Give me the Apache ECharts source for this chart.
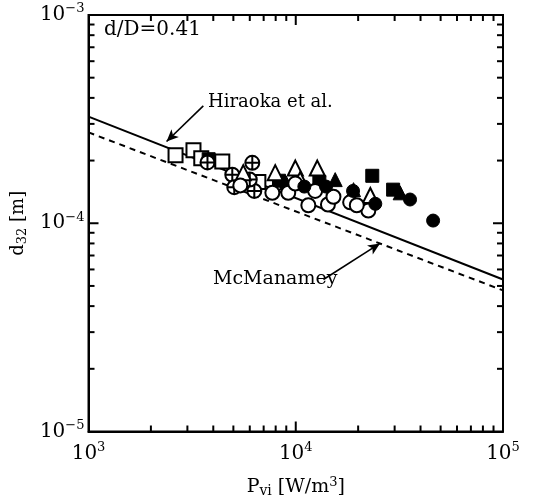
<!DOCTYPE html>
<html><head><meta charset="utf-8">
<script src="https://cdn.jsdelivr.net/npm/echarts@6/dist/echarts.min.js"></script>
<style>html,body{margin:0;padding:0;background:#fff}#c{width:541px;height:504px}</style>
</head><body><div id="c"></div>
<script>
// ---- data ----
const xRange = [1e3, 1e5];
const yRange = [1e-5, 1e-3];
const xTickValues = [1e3, 1e4, 1e5];
const yTickValues = [1e-5, 1e-4, 1e-3];
const xMinorTicks = [2e3,3e3,4e3,5e3,6e3,7e3,8e3,9e3,1e4,2e4,3e4,4e4,5e4,6e4,7e4,8e4,9e4];
const yMinorTicks = [2e-5,3e-5,4e-5,5e-5,6e-5,7e-5,8e-5,9e-5,1e-4,2e-4,3e-4,4e-4,5e-4,6e-4,7e-4,8e-4,9e-4];

const hiraokaLine = [[1e3, 3.25e-4], [1e5, 5.37e-5]];
const mcmanameyLine = [[1e3, 2.73e-4], [1e5, 4.76e-5]];
const hiraokaArrow = [[3580, 3.66e-4], [2380, 2.47e-4]];
const mcmanameyArrow = [[1.36e4, 5.37e-5], [2.55e4, 8.0e-5]];

const openSquares   = [[2630,2.12e-4],[3210,2.24e-4],[3500,2.05e-4],[4420,1.98e-4],[5300,1.63e-4],[6600,1.58e-4]];
const filledSquares = [[3800,2.03e-4],[8300,1.60e-4],[1.3e4,1.58e-4],[2.34e4,1.69e-4],[2.95e4,1.45e-4]];
const crossCircles  = [[3750,1.96e-4],[4940,1.71e-4],[5050,1.49e-4],[6170,1.95e-4],[6310,1.43e-4],[6000,1.62e-4]];
const openTriangles = [[5580,1.75e-4],[7960,1.75e-4],[9950,1.84e-4],[1.27e4,1.84e-4],[2.29e4,1.36e-4],[1.05e4,1.62e-4]];
const filledTriangles = [[9000,1.56e-4],[1.55e4,1.62e-4],[3.19e4,1.40e-4],[1.9e4,1.45e-4]];
const openCircles   = [[5400,1.52e-4],[7710,1.40e-4],[9200,1.40e-4],[9950,1.55e-4],[1.15e4,1.22e-4],[1.24e4,1.43e-4],
                       [1.43e4,1.23e-4],[1.52e4,1.34e-4],[1.83e4,1.26e-4],[2.24e4,1.15e-4],[1.97e4,1.22e-4]];
const filledCircles = [[1.1e4,1.50e-4],[1.4e4,1.50e-4],[1.89e4,1.43e-4],[2.42e4,1.24e-4],[3.56e4,1.30e-4],[4.6e4,1.03e-4]];

// ---- chart ----
const SERIF = '"DejaVu Serif", "Liberation Serif", serif';
const chart = echarts.init(document.getElementById('c'), null, {renderer: 'canvas'});

function powLabel(v) {
  const e = Math.round(Math.log10(v));
  const s = e < 0 ? '\u2212' + (-e) : String(e);
  return '{b|10}{s|' + s + '}';
}
const labelRich = {
  b: {fontFamily: SERIF, fontSize: 20, color: '#000', lineHeight: 24},
  s: {fontFamily: SERIF, fontSize: 13, color: '#000', padding: [0, 0, 12, 0], lineHeight: 24}
};

function tickRenderer(dir) {
  return function (params, api) {
    const v = api.value(dir === 'x' ? 0 : 1);
    const lg = Math.log10(v);
    const major = Math.abs(lg - Math.round(lg)) < 1e-6;
    const len = major ? 10 : 6;
    let a, b;
    if (dir === 'x') {
      a = api.coord([v, yRange[0]]); b = api.coord([v, yRange[1]]);
      return {type: 'group', children: [
        {type: 'line', shape: {x1: a[0], y1: a[1], x2: a[0], y2: a[1] - len}, style: {stroke: '#000', lineWidth: 2}},
        {type: 'line', shape: {x1: b[0], y1: b[1], x2: b[0], y2: b[1] + len}, style: {stroke: '#000', lineWidth: 2}}
      ]};
    } else {
      a = api.coord([xRange[0], v]); b = api.coord([xRange[1], v]);
      return {type: 'group', children: [
        {type: 'line', shape: {x1: a[0], y1: a[1], x2: a[0] + len, y2: a[1]}, style: {stroke: '#000', lineWidth: 2}},
        {type: 'line', shape: {x1: b[0], y1: b[1], x2: b[0] - len, y2: b[1]}, style: {stroke: '#000', lineWidth: 2}}
      ]};
    }
  };
}

const crossPath = 'path://M0,-10A10,10,0,1,1,0,10A10,10,0,1,1,0,-10Z M-10,0L10,0 M0,-10L0,10';
const openStyle = {color: '#fff', borderColor: '#000', borderWidth: 2, opacity: 1};
const fillStyle = {color: '#000', borderColor: '#000', borderWidth: 1, opacity: 1};

function scatter(name, data, symbol, size, style) {
  return {name, type: 'scatter', data, symbol, symbolSize: size, itemStyle: style,
          z: 3, animation: false, emphasis: {disabled: true}};
}

const option = {
  backgroundColor: '#fff',
  animation: false,
  grid: {left: 88, right: 38, top: 15, bottom: 67, show: true, borderColor: '#000', borderWidth: 2, backgroundColor: 'transparent'},
  xAxis: {
    type: 'log', logBase: 10, min: xRange[0], max: xRange[1],
    axisLine: {show: true, lineStyle: {color: '#000', width: 2}},
    axisTick: {show: false}, splitLine: {show: false}, minorTick: {show: false},
    axisLabel: {formatter: powLabel, rich: labelRich, margin: 10, showMinLabel: true, showMaxLabel: true},
    name: '{b|P}{sub|vi}{b| [W/m}{sup|3}{b|]}',
    nameLocation: 'middle', nameGap: 44,
    nameTextStyle: {rich: {
      b: {fontFamily: SERIF, fontSize: 19, color: '#000', lineHeight: 24},
      sub: {fontFamily: SERIF, fontSize: 14, color: '#000', padding: [8, 0, 0, 0], lineHeight: 24},
      sup: {fontFamily: SERIF, fontSize: 13, color: '#000', padding: [0, 0, 10, 0], lineHeight: 24}
    }}
  },
  yAxis: {
    type: 'log', logBase: 10, min: yRange[0], max: yRange[1],
    axisLine: {show: true, lineStyle: {color: '#000', width: 2}},
    axisTick: {show: false}, splitLine: {show: false}, minorTick: {show: false},
    axisLabel: {formatter: powLabel, rich: labelRich, margin: 4, showMinLabel: true, showMaxLabel: true},
    name: '{b|d}{sub|32}{b| [m]}',
    nameLocation: 'middle', nameGap: 58, nameRotate: 90,
    nameTextStyle: {rich: {
      b: {fontFamily: SERIF, fontSize: 18, color: '#000', lineHeight: 24},
      sub: {fontFamily: SERIF, fontSize: 13, color: '#000', padding: [8, 0, 0, 0], lineHeight: 24}
    }}
  },
  graphic: [
    {type: 'text', left: 104, top: 20, style: {text: 'd/D=0.41', font: '20px ' + SERIF, fill: '#000'}},
    {type: 'text', left: 208, top: 93, style: {text: 'Hiraoka et al.', font: '18px ' + SERIF, fill: '#000'}},
    {type: 'text', left: 213, top: 270, style: {text: 'McManamey', font: '19px ' + SERIF, fill: '#000'}}
  ],
  series: [
    {type: 'custom', name: 'xticks', data: xMinorTicks.map(v => [v, yRange[0]]), renderItem: tickRenderer('x'), clip: false, silent: true, z: 5},
    {type: 'custom', name: 'yticks', data: yMinorTicks.map(v => [xRange[0], v]), renderItem: tickRenderer('y'), clip: false, silent: true, z: 5},
    {type: 'line', name: 'Hiraoka et al.', data: hiraokaLine, showSymbol: false, symbol: 'none',
     lineStyle: {color: '#000', width: 2, type: 'solid'}, z: 2, silent: true,
     markLine: {silent: true, symbol: ['none', 'arrow'], symbolSize: [8, 12], animation: false,
       lineStyle: {color: '#000', width: 1.6, type: 'solid'}, label: {show: false},
       data: [[{coord: hiraokaArrow[0]}, {coord: hiraokaArrow[1]}]]}},
    {type: 'line', name: 'McManamey', data: mcmanameyLine, showSymbol: false, symbol: 'none',
     lineStyle: {color: '#000', width: 2, type: [6, 5]}, z: 2, silent: true,
     markLine: {silent: true, symbol: ['none', 'arrow'], symbolSize: [8, 12], animation: false,
       lineStyle: {color: '#000', width: 1.6, type: 'solid'}, label: {show: false},
       data: [[{coord: mcmanameyArrow[0]}, {coord: mcmanameyArrow[1]}]]}},
    scatter('open squares', openSquares, 'rect', 14, openStyle),
    scatter('filled squares', filledSquares, 'rect', 13, fillStyle),
    scatter('crossed circles', crossCircles, crossPath, 14, openStyle),
    scatter('open triangles', openTriangles, 'triangle', 15, openStyle),
    scatter('filled triangles', filledTriangles, 'triangle', 14, fillStyle),
    scatter('open circles', openCircles, 'circle', 14, openStyle),
    scatter('filled circles', filledCircles, 'circle', 13, fillStyle)
  ]
};
chart.setOption(option);
</script>
</body></html>
